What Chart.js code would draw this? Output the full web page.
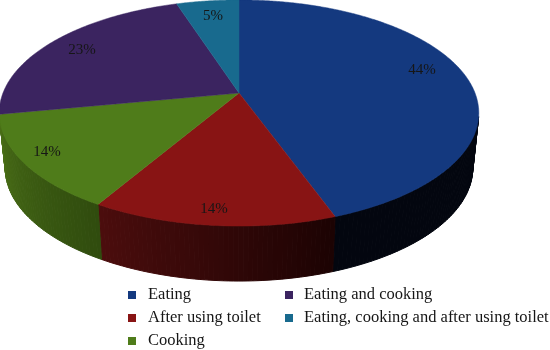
<!DOCTYPE html>
<html>
<head>
<meta charset="utf-8">
<title>Pie</title>
<script src="https://cdn.jsdelivr.net/npm/chart.js@4/dist/chart.umd.min.js"></script>
<style>
  html, body { margin: 0; padding: 0; background: #fff; }
  canvas { display: block; }
</style>
</head>
<body>
<canvas id="pieChart" width="550" height="350"></canvas>
<script>
const categories = ['Eating', 'After using toilet', 'Cooking', 'Eating and cooking', 'Eating, cooking and after using toilet'];
const shares = [44.49, 13.96, 13.55, 23, 5];
const sliceColors = ['#14397f', '#881414', '#4f7c1a', '#3b2460', '#186a8e'];
const wallFrom = [[3, 6, 15], [28, 3, 3], [48, 76, 14], [45, 28, 74], [15, 60, 80]];
const wallTo = [[3, 6, 15], [76, 13, 13], [74, 111, 23], [45, 28, 74], [15, 60, 80]];
const labelSpots = [[422, 70], [214, 209], [47, 152], [82, 50], [213, 16]];

// tilted disc, nearer edge comes out bigger
const view = { cx: 239, apex: 93, rx: 236, ry: 109.5, p: 0.177, depth: 55, shrink: 0.975 };

function rim(angle, lower) {
    const u = Math.cos(angle), v = Math.sin(angle);
    const s = 1 / (1 - view.p * v);
    const k = lower ? view.shrink : 1;
    return {
        x: view.cx + view.rx * k * u * s,
        y: view.apex + (lower ? view.depth : 0) + view.ry * v * s
    };
}

const tiltedPie = {
    id: 'tiltedPie',
    beforeDatasetsDraw(chart) {
        const ctx = chart.ctx;
        const arcs = chart.getDatasetMeta(0).data;
        const step = Math.PI / 180;

        // side wall first, only the part facing us
        arcs.forEach((arc, i) => {
            const span = arc.endAngle - arc.startAngle;
            for (let a = arc.startAngle; a < arc.endAngle; a += step) {
                if (Math.sin(a) < 0.2) continue;
                const next = Math.min(a + step, arc.endAngle);
                const t = (a - arc.startAngle) / span;
                const c = wallFrom[i].map((f, n) => Math.round(f + (wallTo[i][n] - f) * t));
                const p1 = rim(a), p2 = rim(next), p3 = rim(next, true), p4 = rim(a, true);
                ctx.fillStyle = ctx.strokeStyle = 'rgb(' + c.join(',') + ')';
                ctx.lineWidth = 1;
                ctx.beginPath();
                ctx.moveTo(p1.x, p1.y);
                ctx.lineTo(p2.x, p2.y);
                ctx.lineTo(p3.x, p3.y);
                ctx.lineTo(p4.x, p4.y);
                ctx.closePath();
                ctx.fill();
                ctx.stroke();
            }
        });

        // top face
        arcs.forEach((arc) => {
            ctx.fillStyle = arc.options.backgroundColor;
            ctx.strokeStyle = arc.options.backgroundColor;
            ctx.lineWidth = 0.5;
            ctx.beginPath();
            ctx.moveTo(view.cx, view.apex);
            for (let a = arc.startAngle; a < arc.endAngle; a += step / 2) {
                const p = rim(a);
                ctx.lineTo(p.x, p.y);
            }
            const end = rim(arc.endAngle);
            ctx.lineTo(end.x, end.y);
            ctx.closePath();
            ctx.fill();
            ctx.stroke();
        });
        return false;
    },
    afterDraw(chart) {
        const ctx = chart.ctx;
        const data = chart.data.datasets[0].data;
        ctx.fillStyle = '#161616';
        ctx.textBaseline = 'middle';
        ctx.textAlign = 'center';
        ctx.font = '15px "Liberation Serif"';
        data.forEach((v, i) => ctx.fillText(Math.round(v) + '%', labelSpots[i][0], labelSpots[i][1]));

        // two column legend, filled column by column
        ctx.textAlign = 'left';
        ctx.font = '16.5px "Liberation Serif"';
        chart.data.labels.forEach((name, i) => {
            const col = i < 3 ? 0 : 1;
            const row = i < 3 ? i : i - 3;
            const x = col ? 285 : 128;
            const y = 295 + row * 23;
            ctx.fillStyle = sliceColors[i];
            ctx.fillRect(x, y - 4, 8, 8);
            ctx.fillStyle = '#161616';
            ctx.fillText(name, x + (col ? 19 : 20), y);
        });
    }
};

new Chart(document.getElementById('pieChart').getContext('2d'), {
    type: 'pie',
    data: {
        labels: categories,
        datasets: [{ data: shares, backgroundColor: sliceColors, borderWidth: 0 }]
    },
    options: {
        responsive: false,
        animation: false,
        plugins: {
            legend: { display: false },
            tooltip: { enabled: false }
        }
    },
    plugins: [tiltedPie]
});
</script>
</body>
</html>
